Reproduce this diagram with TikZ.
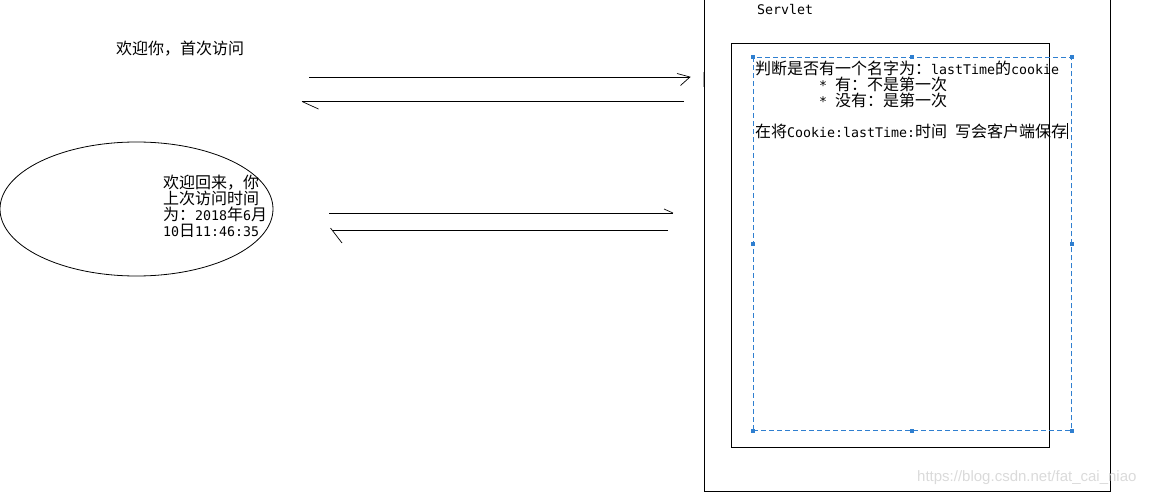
\documentclass[tikz,border=0pt]{standalone}
\usepackage{fontspec}
\setmainfont{Noto Sans CJK SC}
\newfontfamily\lat[Scale=0.83]{DejaVu Sans Mono}
\newfontfamily\wm{Liberation Sans}
\usetikzlibrary{shapes.geometric}
\definecolor{selblue}{HTML}{2F7FD0}
\definecolor{wmgrey}{HTML}{DADADA}
\tikzset{
  txt/.style={anchor=west, inner sep=0pt, font=\fontsize{16}{16}\selectfont},
  thinline/.style={draw=black, line width=0.9pt},
  handle/.style={fill=selblue, draw=none, minimum size=4pt, inner sep=0pt, rectangle},
}
\begin{document}
\begin{tikzpicture}[x=1pt,y=-1pt]
\useasboundingbox (0,0) rectangle (1157,495);
% Servlet outer box (top edge outside picture)
\draw[thinline] (704,0) -- (704,491) -- (1110.7,491) -- (1110.7,0);
\node[txt] (servlet) at (757,10) {\lat Servlet};
% inner box
\node[thinline, rectangle, minimum width=318pt, minimum height=403pt, inner sep=0pt, anchor=north west] (inner) at (730.5,43.5) {};
% selection box
\node[draw=selblue, line width=0.9pt, dash pattern=on 5pt off 3pt, rectangle, minimum width=318pt, minimum height=372.5pt, inner sep=0pt, anchor=north west] (sel) at (753,57.5) {};
\foreach \a in {north west,north,north east,west,east,south west,south,south east}
  \node[handle] at (sel.\a) {};
% texts in servlet
\node[txt] (l1) at (755,68) {判断是否有一个名字为：{\lat lastTime}的{\lat cookie}};
\node[txt] (l2) at (819,84) {{\lat *\ }有：不是第一次};
\node[txt] (l3) at (819,100) {{\lat *\ }没有：是第一次};
\node[txt] (l4) at (755,131) {在将{\lat Cookie:lastTime:}时间{\lat\ }写会客户端保存};
\coordinate (cur1) at (1067,123);
\coordinate (cur2) at (1067,139);
\draw[line width=0.8pt] (cur1) -- (cur2);
% small grey mark
\draw[gray!70, line width=1.5pt] (703.5,72) -- (703.5,87);
% first visit text
\node[txt] (first) at (116,49) {欢迎你，首次访问};
% top arrows
\coordinate (a1s) at (309,77);
\coordinate (a1e) at (690,77);
\draw[thinline] (a1s) -- (a1e);
\draw[line width=0.7pt] (677,73.5) -- (a1e) -- (680.5,85.5);
\coordinate (a2s) at (684,101.5);
\coordinate (a2e) at (302,101.5);
\draw[thinline] (a2s) -- (a2e);
\draw[line width=0.7pt] (a2e) -- (318.5,109);
% ellipse
\node[draw, ellipse, line width=0.8pt, minimum width=273pt, minimum height=134pt, inner sep=0pt] (ell) at (136.5,209) {};
\node[txt, align=left, anchor=north west, font=\fontsize{16}{16}\selectfont] (back) at (163,175)
  {欢迎回来，你\\上次访问时间\\为：{\lat 2018}年{\lat 6}月\\{\lat 10}日{\lat 11:46:35}};
% lower arrows
\coordinate (b1s) at (329,213);
\coordinate (b1e) at (673,213);
\draw[thinline] (b1s) -- (b1e);
\draw[line width=0.7pt] (664,209) -- (b1e);
\coordinate (b2s) at (668,230.5);
\coordinate (b2e) at (333,230.5);
\draw[thinline] (b2s) -- (b2e);
\draw[line width=0.7pt] (330.5,228) -- (342,243);
% watermark
\node[anchor=west, inner sep=0pt, text=wmgrey, font=\wm\fontsize{15}{15}\selectfont] (wm) at (917,478) {https://blog.csdn.net/fat\_cai\_niao};
\end{tikzpicture}
\end{document}
